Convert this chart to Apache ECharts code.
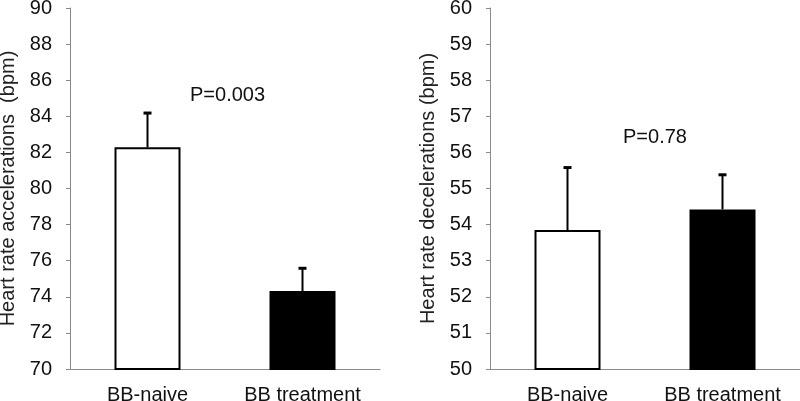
<!DOCTYPE html>
<html><head><meta charset="utf-8">
<script src="https://cdn.jsdelivr.net/npm/echarts@6/dist/echarts.min.js"></script>
<style>html,body{margin:0;padding:0;background:#fff}#c{width:800px;height:401px}</style>
</head><body><div id="c"></div>
<script>
const categories = ['BB-naive', 'BB treatment'];
const accelMeans = [82.28, 74.32];
const accelUpper = [84.18, 75.58];
const decelMeans = [53.85, 54.42];
const decelUpper = [55.58, 55.38];
const accelTicks = [70, 90, 2];
const decelTicks = [50, 60, 1];
const pLabels = ['P=0.003', 'P=0.78'];
const yNames = ['Heart rate accelerations  (bpm)', 'Heart rate decelerations (bpm)'];

const FONT = 'Liberation Sans, Arial, sans-serif';
const chart = echarts.init(document.getElementById('c'));
const barColors = [{color:'#ffffff'}, {color:'#000000'}];

function errSeries(idx, means, upper) {
  return {
    type: 'custom', xAxisIndex: idx, yAxisIndex: idx, z: 1,
    data: means.map((m, i) => [i, m, upper[i]]),
    renderItem: function (params, api) {
      const base = api.coord([api.value(0), api.value(1)]);
      const top = api.coord([api.value(0), api.value(2)]);
      return {
        type: 'group', children: [
          {type: 'line', shape: {x1: base[0], y1: base[1], x2: top[0], y2: top[1]}, style: {stroke: '#000', lineWidth: 2}},
          {type: 'line', shape: {x1: top[0] - 4, y1: top[1], x2: top[0] + 4, y2: top[1]}, style: {stroke: '#000', lineWidth: 3}}
        ]
      };
    }
  };
}
function barSeries(idx, means) {
  return {
    type: 'bar', xAxisIndex: idx, yAxisIndex: idx, barWidth: 66, z: 2,
    data: means.map((v, i) => ({value: v, itemStyle: {color: barColors[i].color, borderColor: '#000', borderWidth: 2}}))
  };
}
function yAxis(idx, t) {
  return {
    type: 'value', gridIndex: idx, min: t[0], max: t[1], interval: t[2],
    name: yNames[idx], nameLocation: 'middle', nameGap: 52,
    nameTextStyle: {fontFamily: FONT, fontSize: 20, color: '#222'},
    axisLine: {show: true, lineStyle: {color: '#8a8a8a', width: 1}},
    axisTick: {show: true, length: 4, lineStyle: {color: '#8a8a8a'}},
    axisLabel: {fontFamily: FONT, fontSize: 20, color: '#111', margin: 18},
    splitLine: {show: false}
  };
}
function xAxis(idx) {
  return {
    type: 'category', gridIndex: idx, data: categories,
    axisLine: {lineStyle: {color: '#8a8a8a', width: 1}},
    axisTick: {show: false},
    axisLabel: {fontFamily: FONT, fontSize: 20, color: '#111', margin: 16}
  };
}
chart.setOption({
  animation: false,
  backgroundColor: '#fff',
  grid: [
    {left: 70, top: 8, width: 310, bottom: 32, containLabel: false, outerBoundsMode: 'none'},
    {left: 490, top: 8, width: 310, bottom: 32, containLabel: false, outerBoundsMode: 'none'}
  ],
  title: [
    {text: pLabels[0], left: 190, top: 85, textStyle: {fontFamily: FONT, fontSize: 20, fontWeight: 'normal', color: '#111'}, padding: 0},
    {text: pLabels[1], left: 623, top: 127, textStyle: {fontFamily: FONT, fontSize: 20, fontWeight: 'normal', color: '#111'}, padding: 0}
  ],
  xAxis: [xAxis(0), xAxis(1)],
  yAxis: [yAxis(0, accelTicks), yAxis(1, decelTicks)],
  series: [
    errSeries(0, accelMeans, accelUpper), barSeries(0, accelMeans),
    errSeries(1, decelMeans, decelUpper), barSeries(1, decelMeans)
  ]
});
</script></body></html>
